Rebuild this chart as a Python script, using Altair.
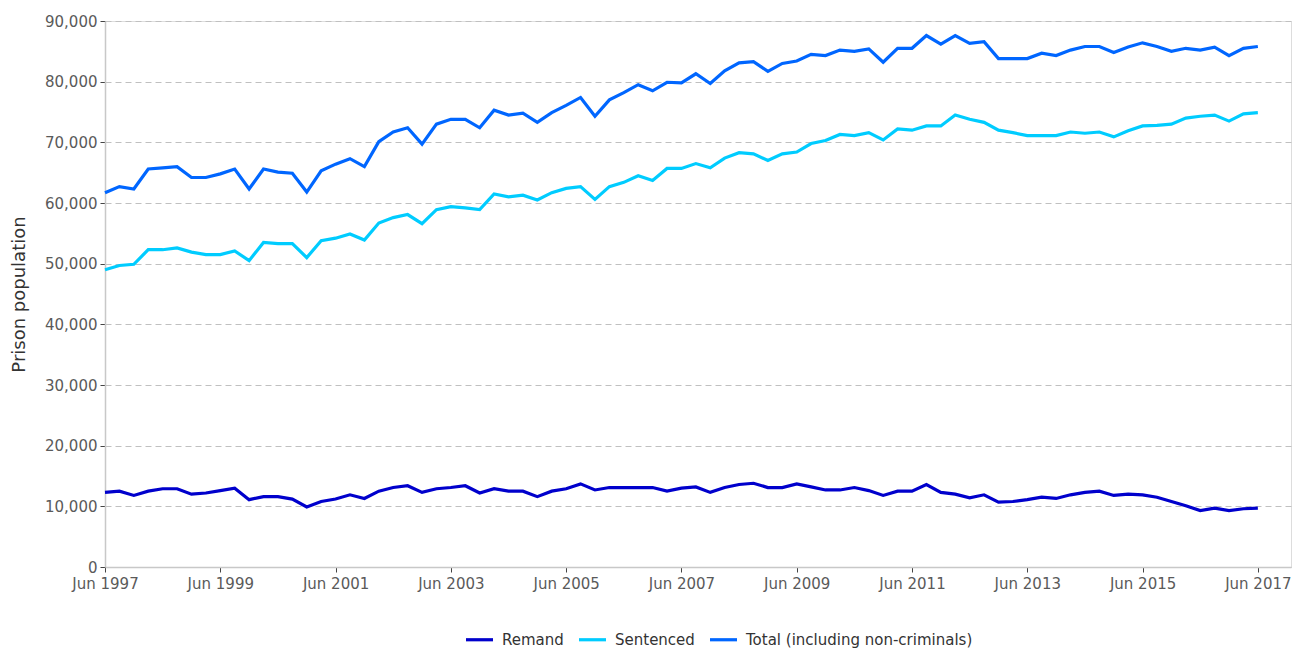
import altair as alt
import pandas as pd

series_names = ["Remand", "Sentenced", "Total (including non-criminals)"]
series_colors = ["#0000CC", "#00CCFF", "#0066FF"]

tick_labels = ["Jun 1997", "Jun 1999", "Jun 2001", "Jun 2003", "Jun 2005", "Jun 2007",
               "Jun 2009", "Jun 2011", "Jun 2013", "Jun 2015", "Jun 2017"]

total = [61700, 62700, 62300, 65600, 65800, 66000, 64200, 64200, 64800, 65600,
         62300, 65600, 65100, 64900, 61800, 65300, 66400, 67300, 66000, 70100,
         71700, 72400, 69700, 73000, 73800, 73800, 72400, 75300, 74500, 74800,
         73300, 74900, 76100, 77400, 74300, 77000, 78200, 79500, 78500, 79900,
         79800, 81300, 79700, 81800, 83100, 83300, 81700, 83000, 83400, 84500,
         84300, 85200, 85000, 85400, 83200, 85500, 85500, 87600, 86200, 87600,
         86300, 86600, 83800, 83800, 83800, 84700, 84300, 85200, 85800, 85800,
         84800, 85700, 86400, 85800, 85000, 85500, 85200, 85700, 84300, 85500,
         85800]

sentenced = [49000, 49700, 49900, 52300, 52300, 52600, 51900, 51500, 51500, 52100,
             50500, 53500, 53300, 53300, 51000, 53800, 54200, 54900, 53900, 56700,
             57600, 58100, 56600, 58900, 59400, 59200, 58900, 61500, 61000, 61300,
             60500, 61700, 62400, 62700, 60600, 62700, 63400, 64500, 63700, 65700,
             65700, 66500, 65800, 67400, 68300, 68100, 67000, 68100, 68400, 69800,
             70300, 71300, 71100, 71600, 70400, 72200, 72000, 72700, 72700, 74500,
             73800, 73300, 72000, 71600, 71100, 71100, 71100, 71700, 71500, 71700,
             70900, 71900, 72700, 72800, 73000, 74000, 74300, 74500, 73500, 74700,
             74900]

remand = [12300, 12500, 11800, 12500, 12900, 12900, 12000, 12200, 12600, 13000,
          11100, 11600, 11600, 11200, 9900, 10800, 11200, 11900, 11300, 12500,
          13100, 13400, 12300, 12900, 13100, 13400, 12200, 12900, 12500, 12500,
          11600, 12500, 12900, 13700, 12700, 13100, 13100, 13100, 13100, 12500,
          13000, 13200, 12300, 13100, 13600, 13800, 13100, 13100, 13700, 13200,
          12700, 12700, 13100, 12600, 11800, 12500, 12500, 13600, 12300, 12000,
          11400, 11900, 10700, 10800, 11100, 11500, 11300, 11900, 12300, 12500,
          11800, 12000, 11900, 11500, 10800, 10100, 9300, 9700, 9300, 9600,
          9700]

rows = []
for name, vals in zip(series_names, [remand, sentenced, total]):
    for i, v in enumerate(vals):
        rows.append({"q": i, "series": name, "value": v})
df = pd.DataFrame(rows)

label_js = "[" + ",".join("'" + t + "'" for t in tick_labels) + "]"
FONT = "DejaVu Sans"

chart = alt.Chart(df).mark_line(strokeWidth=3.2, strokeJoin="miter").encode(
    x=alt.X("q:Q",
            scale=alt.Scale(domain=[0, 82.3], nice=False, zero=False),
            axis=alt.Axis(values=list(range(0, 81, 8)),
                          labelExpr=label_js + "[round(datum.value/8)]",
                          title=None, grid=False, tickSize=5,
                          labelFontSize=15, labelColor="#5a5a5a",
                          labelFont=FONT, labelPadding=4,
                          domainColor="#c8c8c8", domainWidth=1.5,
                          tickColor="#444444",
                          labelFlush=False)),
    y=alt.Y("value:Q",
            scale=alt.Scale(domain=[0, 90000], nice=False),
            axis=alt.Axis(values=list(range(0, 90001, 10000)), format=",d",
                          title="Prison population", titleFontSize=18,
                          titleFont=FONT, titleFontWeight="normal",
                          titleColor="#333333", titlePadding=16,
                          labelFontSize=15, labelColor="#5a5a5a",
                          labelFont=FONT, labelPadding=3,
                          tickSize=5, tickColor="#444444",
                          domainColor="#c8c8c8", domainWidth=1.5,
                          gridColor="#c0c0c0", gridDash=[6, 4], gridWidth=1)),
    color=alt.Color("series:N",
                    scale=alt.Scale(domain=series_names, range=series_colors),
                    legend=alt.Legend(orient="none", legendX=359, legendY=603,
                                      direction="horizontal",
                                      title=None, symbolType="stroke",
                                      symbolSize=729, symbolStrokeWidth=3.2,
                                      labelFontSize=15, labelFont=FONT,
                                      labelColor="#333333", columnPadding=8,
                                      labelOffset=7, labelLimit=400)),
).properties(
    width=1186, height=546,
    padding={"left": 2, "top": 6, "right": 0, "bottom": 0},
).configure_view(stroke=None).configure(background="white")

chart.save("out.html", embed_options={"renderer": "svg", "actions": False})
